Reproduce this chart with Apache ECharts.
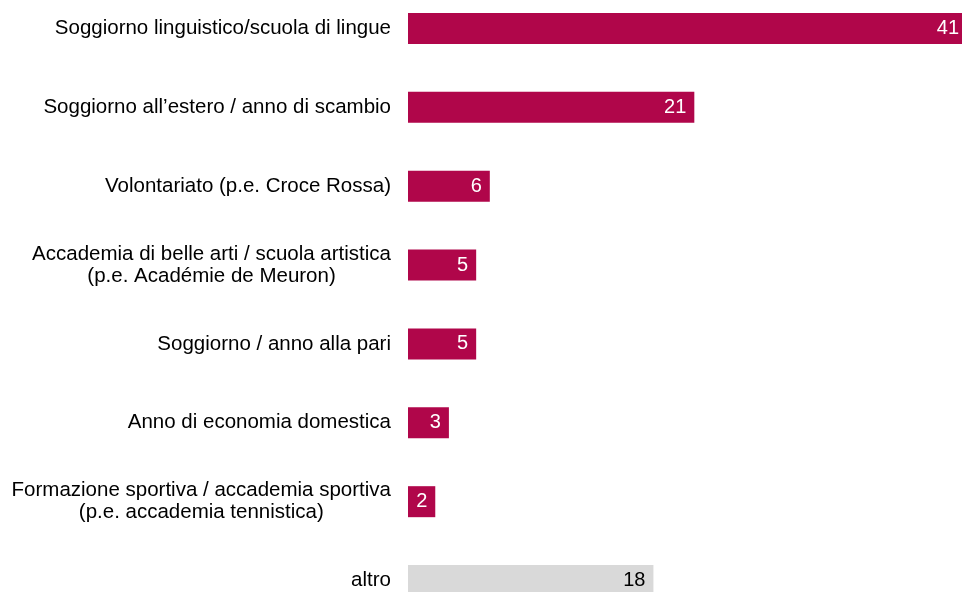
<!DOCTYPE html>
<html>
<head>
<meta charset="utf-8">
<script src="https://cdn.jsdelivr.net/npm/echarts@6/dist/echarts.min.js"></script>
<style>
  html, body { margin: 0; padding: 0; background: #ffffff; }
  #chart { width: 962px; height: 592px; }
</style>
</head>
<body>
<div id="chart"></div>
<script>
// Categories (top to bottom) and their values
const categories = [
  'Soggiorno linguistico/scuola di lingue',
  'Soggiorno all\u2019estero / anno di scambio',
  'Volontariato (p.e. Croce Rossa)',
  'Accademia di belle arti / scuola artistica\n(p.e. Acad\u00e9mie de Meuron)',
  'Soggiorno / anno alla pari',
  'Anno di economia domestica',
  'Formazione sportiva / accademia sportiva\n(p.e. accademia tennistica)',
  'altro'
];
const values = [41, 21, 6, 5, 5, 3, 2, 18];
const otherCategory = 'altro';

const MAIN = '#B0064A';
const OTHER = '#D9D9D9';
const FONT = '"Liberation Sans", Arial, sans-serif';

const chart = echarts.init(document.getElementById('chart'), null, { renderer: 'canvas' });

const seriesData = categories.map((c, i) => {
  const isOther = c === otherCategory;
  return {
    value: values[i],
    itemStyle: { color: isOther ? OTHER : MAIN },
    label: { color: isOther ? '#000000' : '#ffffff' }
  };
});

chart.setOption({
  animation: false,
  backgroundColor: '#ffffff',
  grid: {
    left: 408, right: -5, top: -11, bottom: -28,
    containLabel: false,
    outerBoundsMode: 'none'
  },
  xAxis: {
    type: 'value',
    min: 0,
    max: 41,
    show: false
  },
  yAxis: {
    type: 'category',
    inverse: true,
    data: categories,
    axisLine: { show: false },
    axisTick: { show: false },
    axisLabel: {
      margin: 17,
      fontFamily: FONT,
      fontSize: 20.5,
      color: '#000000',
      lineHeight: 22,
      formatter: function (v) {
        return v.split('\n').map(l => '{c|' + l + '}').join('\n');
      },
      rich: {
        c: { align: 'center', fontFamily: FONT, fontSize: 20.5, lineHeight: 22, color: '#000000' }
      }
    }
  },
  series: [{
    type: 'bar',
    data: seriesData,
    barWidth: 31,
    label: {
      show: true,
      position: 'insideRight',
      distance: 8,
      fontFamily: FONT,
      fontSize: 20
    }
  }]
});
</script>
</body>
</html>
